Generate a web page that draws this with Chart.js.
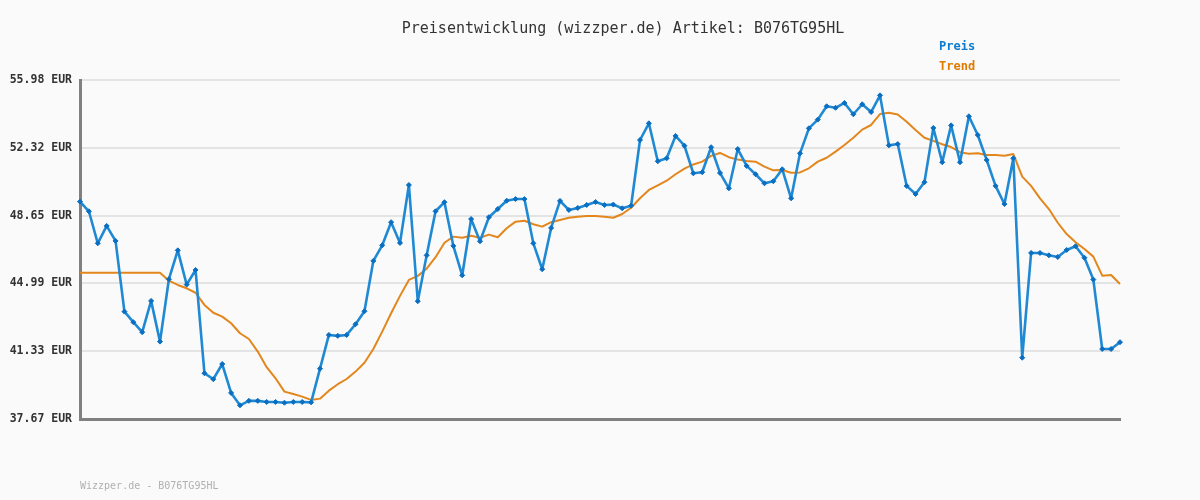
<!DOCTYPE html>
<html>
<head>
<meta charset="utf-8">
<script src="https://cdn.jsdelivr.net/npm/chart.js@4/dist/chart.umd.min.js"></script>
<style>
  html, body { margin: 0; padding: 0; background: #fafafa; }
  #wrap { position: relative; width: 1200px; height: 500px; }
  #chart { position: absolute; left: 0; top: 0; }
  .txt { position: absolute; font-family: "DejaVu Sans Mono", monospace; white-space: pre; }
  #title { left: 0; width: 1246px; top: 19px; text-align: center; font-size: 15px; color: #333; }
  #lg1 { left: 939px; top: 39px; font-size: 12px; font-weight: bold; color: #0a7bd0; }
  #lg2 { left: 939px; top: 59px; font-size: 12px; font-weight: bold; color: #e07b00; }
  #footer { left: 80px; top: 480px; font-size: 10px; color: #b0b0b0; }
</style>
</head>
<body>
<div id="wrap">
  <canvas id="chart" width="1200" height="500"></canvas>
  <div class="txt" id="title">Preisentwicklung (wizzper.de) Artikel: B076TG95HL</div>
  <div class="txt" id="lg1">Preis</div>
  <div class="txt" id="lg2">Trend</div>
  <div class="txt" id="footer">Wizzper.de - B076TG95HL</div>
</div>
<script>
const preis = [
  49.41, 48.89, 47.16, 48.10, 47.29, 43.47, 42.90, 42.36, 44.05, 41.85,
  45.22, 46.78, 44.93, 45.72, 40.14, 39.82, 40.64, 39.08, 38.41, 38.65,
  38.65, 38.59, 38.59, 38.55, 38.59, 38.59, 38.57, 40.39, 42.21, 42.16,
  42.21, 42.79, 43.49, 46.21, 47.05, 48.30, 47.18, 50.31, 44.03, 46.51,
  48.89, 49.38, 47.02, 45.43, 48.47, 47.27, 48.57, 49.01, 49.46, 49.55,
  49.55, 47.16, 45.76, 47.99, 49.45, 48.96, 49.07, 49.23, 49.39, 49.23,
  49.25, 49.05, 49.19, 52.74, 53.64, 51.59, 51.75, 52.96, 52.43, 50.94,
  51.00, 52.35, 50.96, 50.13, 52.25, 51.34, 50.89, 50.40, 50.51, 51.16,
  49.59, 52.02, 53.37, 53.84, 54.56, 54.48, 54.74, 54.13, 54.67, 54.25,
  55.15, 52.45, 52.52, 50.26, 49.82, 50.46, 53.39, 51.54, 53.53, 51.54,
  54.02, 53.01, 51.66, 50.26, 49.28, 51.75, 40.98, 46.64, 46.64, 46.51,
  46.42, 46.80, 47.00, 46.38, 45.20, 41.45, 41.45, 41.82
];

// Trend (EUR)
const trend = [
  45.57, 45.57, 45.57, 45.57, 45.57, 45.57, 45.57, 45.57, 45.57, 45.57,
  45.14, 44.91, 44.73, 44.49, 43.83, 43.41, 43.20, 42.84, 42.30, 41.99,
  41.31, 40.47, 39.87, 39.15, 39.02, 38.88, 38.70, 38.77, 39.20, 39.55,
  39.83, 40.23, 40.71, 41.45, 42.39, 43.38, 44.32, 45.18, 45.40, 45.79,
  46.41, 47.19, 47.52, 47.46, 47.57, 47.46, 47.63, 47.49, 47.97, 48.33,
  48.38, 48.19, 48.06, 48.30, 48.42, 48.54, 48.60, 48.64, 48.64, 48.60,
  48.54, 48.74, 49.08, 49.59, 50.04, 50.29, 50.54, 50.89, 51.19, 51.42,
  51.57, 51.88, 52.04, 51.81, 51.68, 51.61, 51.57, 51.30, 51.10, 51.12,
  50.97, 50.99, 51.21, 51.57, 51.78, 52.11, 52.47, 52.86, 53.30, 53.55,
  54.14, 54.21, 54.12, 53.73, 53.28, 52.86, 52.69, 52.51, 52.36, 52.08,
  52.00, 52.02, 51.93, 51.93, 51.89, 51.98, 50.76, 50.26, 49.59, 49.01,
  48.27, 47.66, 47.22, 46.85, 46.44, 45.41, 45.45, 44.96
];

const yTicks = [37.67, 41.33, 44.99, 48.65, 52.32, 55.98];
const labels = preis.map((_, i) => String(i + 1));

new Chart(document.getElementById('chart'), {
  type: 'line',
  data: {
    labels: labels,
    datasets: [
      {
        label: 'Trend',
        data: trend,
        borderColor: '#e3861c',
        borderWidth: 2,
        borderJoinStyle: 'round',
        pointRadius: 0,
        tension: 0,
        order: 2
      },
      {
        label: 'Preis',
        data: preis,
        borderColor: '#2089d3',
        borderWidth: 2.6,
        borderJoinStyle: 'round',
        pointStyle: 'rectRot',
        pointRadius: 2.5,
        pointBackgroundColor: '#0a6fc2',
        pointBorderColor: '#0a6fc2',
        pointBorderWidth: 1,
        tension: 0,
        order: 1
      }
    ]
  },
  options: {
    responsive: false,
    animation: false,
    layout: { padding: { top: 80, right: 80, bottom: 81, left: 0 } },
    plugins: { legend: { display: false }, title: { display: false }, tooltip: { enabled: false } },
    scales: {
      x: {
        offset: false,
        ticks: { display: false },
        grid: { display: false, drawTicks: false },
        border: { color: '#808080', width: 3 }
      },
      y: {
        min: 37.67,
        max: 55.98,
        afterBuildTicks: s => { s.ticks = yTicks.map(v => ({ value: v })); },
        afterFit: s => { s.width = 80; },
        ticks: {
          padding: 8,
          color: '#333',
          font: { family: 'DejaVu Sans Mono', size: 11.5, weight: 'bold' },
          callback: v => v.toFixed(2) + ' EUR'
        },
        grid: { color: '#e4e4e4', lineWidth: 2, drawTicks: false },
        border: { color: '#808080', width: 3 }
      }
    }
  }
});
</script>
</body>
</html>
